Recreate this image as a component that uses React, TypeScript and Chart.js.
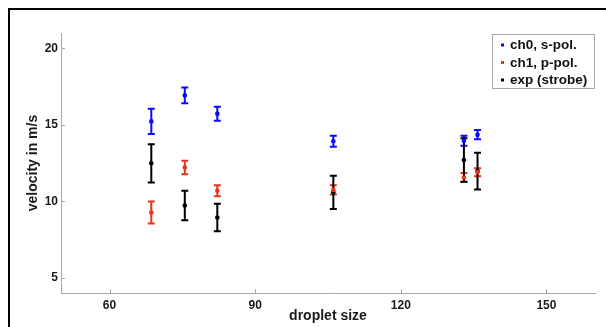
import React, { useEffect, useRef } from "react";
import { Chart, registerables } from "chart.js";

Chart.register(...registerables);

// ---- data ----
const dropletSizes = [68.6, 75.5, 82.2, 106.1, 133.0, 135.8];
const ch0Mean = [15.22, 16.92, 15.72, 13.92, 13.95, 14.35];
const ch0Err = [0.82, 0.52, 0.45, 0.36, 0.33, 0.3];
const ch1Mean = [9.26, 12.2, 10.69, 10.74, 11.55, 11.9];
const ch1Err = [0.72, 0.44, 0.36, 0.3, 0.3, 0.26];
const expMean = [12.48, 9.72, 8.94, 10.58, 12.7, 11.97];
const expErr = [1.25, 0.97, 0.9, 1.08, 1.42, 1.2];

const xTicks = [60, 90, 120, 150];
const yTicks = [5, 10, 15, 20];
const seriesLabels = ["ch0, s-pol.", "ch1, p-pol.", "exp (strobe)"];
const seriesColors = ["#0a0aff", "#e8341c", "#000000"];
const xTitle = "droplet size";
const yTitle = "velocity in m/s";

const FONT = "'Liberation Sans', Arial, sans-serif";

const errorData = [ch0Err, ch1Err, expErr];

const errorBarPlugin = {
  id: "errorBars",
  beforeDatasetsDraw(chart: any) {
    const { ctx } = chart;
    const xs = chart.scales.x;
    const ys = chart.scales.y;
    chart.data.datasets.forEach((ds: any, di: number) => {
      const errs = errorData[di];
      ctx.save();
      ctx.strokeStyle = seriesColors[di];
      ctx.lineWidth = 2;
      ds.data.forEach((p: any, i: number) => {
        const px = xs.getPixelForValue(p.x);
        const top = ys.getPixelForValue(p.y + errs[i]);
        const bot = ys.getPixelForValue(p.y - errs[i]);
        const cap = 3.5;
        ctx.beginPath();
        ctx.moveTo(px, top);
        ctx.lineTo(px, bot);
        ctx.moveTo(px - cap, top);
        ctx.lineTo(px + cap, top);
        ctx.moveTo(px - cap, bot);
        ctx.lineTo(px + cap, bot);
        ctx.stroke();
      });
      ctx.restore();
    });
  },
  afterDraw(chart: any) {
    const { ctx, chartArea: ca } = chart;
    const xs = chart.scales.x;
    const ys = chart.scales.y;
    // inner tick marks
    ctx.save();
    ctx.strokeStyle = "#a8a8a8";
    ctx.lineWidth = 1;
    ctx.beginPath();
    xTicks.forEach((v) => {
      const px = Math.round(xs.getPixelForValue(v)) + 0.5;
      ctx.moveTo(px, ca.bottom);
      ctx.lineTo(px, ca.bottom - 4);
    });
    yTicks.forEach((v) => {
      const py = Math.round(ys.getPixelForValue(v)) + 0.5;
      ctx.moveTo(ca.left, py);
      ctx.lineTo(ca.left + 4, py);
    });
    ctx.stroke();
    ctx.restore();

    // legend box
    const w = 103;
    const h = 55;
    const left = ca.right - w;
    const top = ca.top + 1;
    ctx.save();
    ctx.fillStyle = "#ffffff";
    ctx.fillRect(left, top, w, h);
    ctx.strokeStyle = "#a8a8a8";
    ctx.lineWidth = 1;
    ctx.strokeRect(left + 0.5, top + 0.5, w - 1, h - 1);
    ctx.font = `bold 13.5px ${FONT}`;
    ctx.textBaseline = "middle";
    ctx.textAlign = "left";
    seriesLabels.forEach((lab, i) => {
      const cy = top + 11 + i * 17.5;
      ctx.fillStyle = seriesColors[i];
      ctx.fillRect(left + 9, cy - 1.5, 3, 3);
      ctx.fillStyle = "#111111";
      ctx.fillText(lab, left + 18, cy + 0.5);
    });
    ctx.restore();
  },
};

export default function App() {
  const ref = useRef<HTMLCanvasElement | null>(null);

  useEffect(() => {
    document.documentElement.style.overflow = "hidden";
    if (!ref.current) return;
    const means = [ch0Mean, ch1Mean, expMean];
    const chart = new Chart(ref.current, {
      type: "scatter",
      data: {
        datasets: means.map((m, di) => ({
          label: seriesLabels[di],
          data: dropletSizes.map((x, i) => ({ x, y: m[i] })),
          pointRadius: 2.3,
          pointBorderWidth: 0,
          pointBackgroundColor: seriesColors[di],
          borderColor: seriesColors[di],
          backgroundColor: seriesColors[di],
          showLine: false,
        })),
      },
      options: {
        animation: false,
        responsive: false,
        events: [],
        layout: { padding: { top: 23, right: 11, left: 0, bottom: 0 } },
        plugins: {
          legend: { display: false },
          tooltip: { enabled: false },
        },
        scales: {
          x: {
            type: "linear",
            min: 50,
            max: 160,
            position: "bottom",
            afterBuildTicks: (s: any) => {
              s.ticks = xTicks.map((v) => ({ value: v }));
            },
            afterFit: (s: any) => {
              s.height = 34;
            },
            grid: { display: false, drawTicks: false },
            border: { display: true, color: "#a8a8a8", width: 1 },
            ticks: {
              color: "#1a1a1a",
              font: { family: FONT, size: 12, weight: "bold" },
              padding: 5,
              maxRotation: 0,
            },
            title: {
              display: true,
              text: xTitle,
              color: "#1a1a1a",
              font: { family: FONT, size: 14, weight: "bold" },
              padding: { top: 0, bottom: 2 },
            },
          },
          y: {
            type: "linear",
            min: 4,
            max: 21,
            afterBuildTicks: (s: any) => {
              s.ticks = yTicks.map((v) => ({ value: v }));
            },
            afterFit: (s: any) => {
              s.width = 51;
            },
            grid: { display: false, drawTicks: false },
            border: { display: true, color: "#a8a8a8", width: 1 },
            ticks: {
              color: "#1a1a1a",
              font: { family: FONT, size: 12, weight: "bold" },
              padding: 3,
            },
            title: {
              display: true,
              text: yTitle,
              color: "#1a1a1a",
              font: { family: FONT, size: 14, weight: "bold" },
              padding: { top: 15, bottom: 0 },
            },
          },
        },
      } as any,
      plugins: [errorBarPlugin],
    });
    return () => chart.destroy();
  }, []);

  return (
    <div
      style={{
        position: "fixed",
        left: 8,
        top: 8,
        width: 598,
        height: 319,
        boxSizing: "border-box",
        borderTop: "2px solid #000",
        borderLeft: "2px solid #000",
        background: "#fff",
      }}
    >
      <canvas ref={ref} width={596} height={317} style={{ display: "block", width: 596, height: 317 }} />
    </div>
  );
}
